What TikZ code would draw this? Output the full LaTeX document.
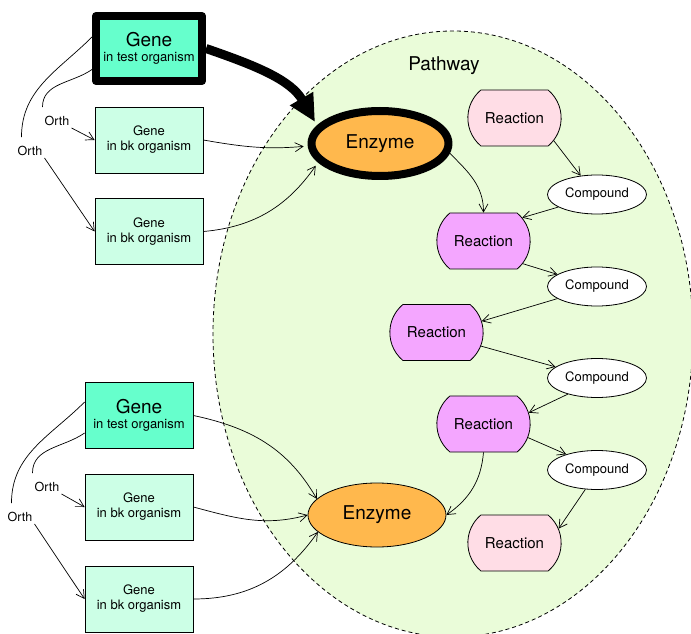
\documentclass[tikz,border=0pt]{standalone}
\usepackage{fontspec}
\setmainfont{TeX Gyre Heros}
\usepackage{xcolor}
\usepackage{tikz}
\usetikzlibrary{positioning,arrows.meta,shapes.geometric,shapes.misc}
\definecolor{CPath}{HTML}{EAFCD9}
\definecolor{CAqua}{HTML}{66FFCC}
\definecolor{CMint}{HTML}{CCFFE6}
\definecolor{COrange}{HTML}{FFB84D}
\definecolor{CPink}{HTML}{FFDDE6}
\definecolor{CViolet}{HTML}{F4A6FF}

\begin{document}
\begin{tikzpicture}[x=1pt, y=1pt,
  link/.style={-{Straight Barb[length=8pt,width=9pt]}, line width=0.7pt},
  gene/.style={draw, line width=0.8pt, minimum width=108pt, minimum height=66pt, align=center, inner sep=0pt, font=\fontsize{13}{15}\selectfont},
  genetest/.style={gene, fill=CAqua},
  genebk/.style={gene, fill=CMint},
  enzyme/.style={ellipse, draw, line width=0.8pt, fill=COrange, minimum width=138pt, minimum height=64pt, inner sep=0pt, font=\fontsize{19}{22}\selectfont},
  reaction/.style={rounded rectangle, rounded rectangle arc length=100, draw, line width=0.8pt, minimum width=100pt, minimum height=56pt, font=\fontsize{15}{18}\selectfont},
  compound/.style={ellipse, draw, line width=0.8pt, fill=white, minimum width=99pt, minimum height=39pt, inner sep=0pt, font=\fontsize{13}{15}\selectfont},
  orthlabel/.style={inner sep=2pt, font=\fontsize{12.5}{15}\selectfont},
  hilite/.style={line width=8pt, line join=round}]
\useasboundingbox (0,0) rectangle (691,633);
% pathway area
\node[ellipse, draw, line width=0.8pt, dash pattern=on 4pt off 3pt, fill=CPath, minimum width=480pt, minimum height=606pt] (pathway) at (453,299) {};
\node[font=\fontsize{19}{22}\selectfont] (pathlabel) at (444,567) {Pathway};
% genes and enzymes
\node[genetest, hilite, minimum width=106pt, minimum height=65pt] (gt1) at (149,584.5) {{\fontsize{19}{21}\selectfont Gene}\\in test organism};
\node[genebk] (gbk1) at (149,493) {Gene\\in bk organism};
\node[genebk] (gbk2) at (149,401.5) {Gene\\in bk organism};
\node[enzyme, hilite, minimum width=137pt, minimum height=65pt] (enz1) at (380,489.5) {Enzyme};
\node[genetest] (gt2) at (139,217.5) {{\fontsize{19}{21}\selectfont Gene}\\in test organism};
\node[genebk] (gbk3) at (139,126) {Gene\\in bk organism};
\node[genebk] (gbk4) at (139,34) {Gene\\in bk organism};
\node[enzyme] (enz2) at (377,118) {Enzyme};
\node[orthlabel] (o1) at (57,512) {Orth};
\node[orthlabel] (o2) at (30,482) {Orth};
\node[orthlabel] (o3) at (47,146) {Orth};
\node[orthlabel] (o4) at (20,116) {Orth};
% reactions and compounds
\node[reaction, fill=CPink] (r1) at (514.5,515) {Reaction};
\node[reaction, fill=CViolet] (r2) at (483.5,392) {Reaction};
\node[reaction, fill=CViolet] (r3) at (436.5,300.5) {Reaction};
\node[reaction, fill=CViolet] (r4) at (483.5,209) {Reaction};
\node[reaction, fill=CPink] (r5) at (514.5,90) {Reaction};
\node[compound] (c1) at (597,438.5) {Compound};
\node[compound] (c2) at (597,346.5) {Compound};
\node[compound] (c3) at (597,255) {Compound};
\node[compound] (c4) at (597,163) {Compound};
% edges
\draw[line width=9pt, -{Triangle[length=27pt,width=25pt]}, shorten >=4pt] (gt1.east) to[out=-19,in=120] (enz1.164);
\draw[link, shorten >=4pt] (gbk1.east) to[out=-10,in=185] (enz1.182);
\draw[link, shorten >=4pt] (gbk2.east) to[out=5,in=235] (enz1.197);
\draw[link] (enz1.-8) to[out=-45,in=90] (r2.north);
\draw[link] (r1.-30) -- (c1.131);
\draw[link] (c1.198) -- (r2.31);
\draw[link] (r2.-30) -- (c2.163);
\draw[link] (c2.197) -- (r3.14);
\draw[link] (r3.-17) -- (c3.165);
\draw[link] (c3.209) -- (r4.14);
\draw[link] (r4.-17) -- (c4.153);
\draw[link] (c4.239) -- (r5.18);
\draw[link] (r4.south) to[out=-95,in=35] (enz2.east);
\draw[link] (gt2.east) to[out=-12,in=120] (enz2.165);
\draw[link] (gbk3.east) to[out=-15,in=195] (enz2.west);
\draw[link] (gbk4.east) to[out=0,in=235] (enz2.196);
% orthologs
\draw[link] ([yshift=11.5pt]gt1.west) to[out=225,in=90] ([xshift=6pt,yshift=7pt]o2.north west) (o2.south east) -- (gbk2.west);
\draw[link] ([yshift=-21pt]gt1.west) to[out=215,in=90] ([yshift=7pt]o1.north west) (o1.south east) -- (gbk1.west);
\draw[link] ([yshift=13.5pt]gt2.west) to[out=225,in=90] ([xshift=6pt,yshift=7pt]o4.north west) (o4.south east) -- (gbk4.west);
\draw[link] ([yshift=-17.5pt]gt2.west) to[out=215,in=90] ([yshift=7pt]o3.north west) (o3.south east) -- (gbk3.west);
\end{tikzpicture}
\end{document}
